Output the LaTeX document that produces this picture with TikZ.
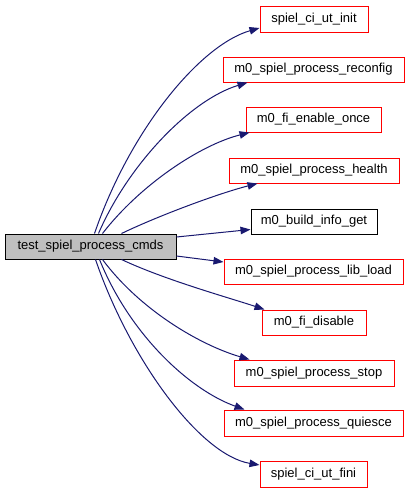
\documentclass[tikz,border=0pt]{standalone}
\usepackage{fontspec}
\setmainfont{Liberation Sans}
\usetikzlibrary{arrows.meta,calc}
\definecolor{edgeblue}{HTML}{191970}
\definecolor{boxred}{HTML}{FF0000}
\definecolor{mainfill}{HTML}{BFBFBF}
\tikzset{
  fn/.style={draw=boxred, line width=1pt, fill=white, minimum height=25pt, inner sep=0pt, font=\fontsize{13}{15}\selectfont},
  fnblack/.style={fn, draw=black},
  mainbox/.style={fn, draw=black, fill=mainfill},
  call/.style={draw=edgeblue, line width=1pt, -{Triangle[length=10pt,width=7.5pt]}, fill=none},
}
\begin{document}
\begin{tikzpicture}[x=1pt,y=-1pt]
\useasboundingbox (0,0) rectangle (409,493);
\node[mainbox, minimum width=171pt] (main) at (90.5,246.5) {test\_spiel\_process\_cmds};
\node[fn, minimum width=108pt, minimum height=26pt] (init) at (314,19) {spiel\_ci\_ut\_init};
\node[fn, minimum width=181pt] (reconfig) at (313.5,69.5) {m0\_spiel\_process\_reconfig};
\node[fn, minimum width=135pt] (enable) at (313.5,119.5) {m0\_fi\_enable\_once};
\node[fn, minimum width=170pt] (health) at (314,170.5) {m0\_spiel\_process\_health};
\node[fnblack, minimum width=126pt] (build) at (314,221.5) {m0\_build\_info\_get};
\node[fn, minimum width=179pt] (libload) at (313.5,271.5) {m0\_spiel\_process\_lib\_load};
\node[fn, minimum width=104pt] (disable) at (314,322.5) {m0\_fi\_disable};
\node[fn, minimum width=160pt, minimum height=26pt] (stop) at (314,373) {m0\_spiel\_process\_stop};
\node[fn, minimum width=179pt, minimum height=26pt] (quiesce) at (313.5,423) {m0\_spiel\_process\_quiesce};
\node[fn, minimum width=107pt, minimum height=26pt] (fini) at (313.5,474) {spiel\_ci\_ut\_fini};

\draw[call] ($(main.north west)+(90,0)$) .. controls (130,130) and (200,45) .. ($(init.west)+(0,9)$);
\draw[call] ($(main.north west)+(94,0)$) .. controls (128,165) and (190,100) .. ($(reconfig.south west)+(25,0)$);
\draw[call] ($(main.north west)+(98,0)$) .. controls (140,185) and (200,145) .. ($(enable.south west)+(4,0)$);
\draw[call] ($(main.north west)+(117,0)$) .. controls (160,215) and (220,193) .. ($(health.south west)+(29,0)$);
\draw[call] ($(main.east)+(0,-9.5)$) -- ($(build.west)+(0,8)$);
\draw[call] ($(main.east)+(0,9.5)$) -- ($(libload.west)+(0,-9.5)$);
\draw[call] ($(main.south west)+(117,0)$) .. controls (165,280) and (230,298) .. ($(disable.north west)+(3,0)$);
\draw[call] ($(main.south west)+(98,0)$) .. controls (140,310) and (200,345) .. ($(stop.north west)+(16,0)$);
\draw[call] ($(main.south west)+(95,0)$) .. controls (130,335) and (190,390) .. ($(quiesce.north west)+(21,0)$);
\draw[call] ($(main.south west)+(91,0)$) .. controls (130,360) and (200,455) .. ($(fini.west)+(0,-9)$);
\end{tikzpicture}
\end{document}
